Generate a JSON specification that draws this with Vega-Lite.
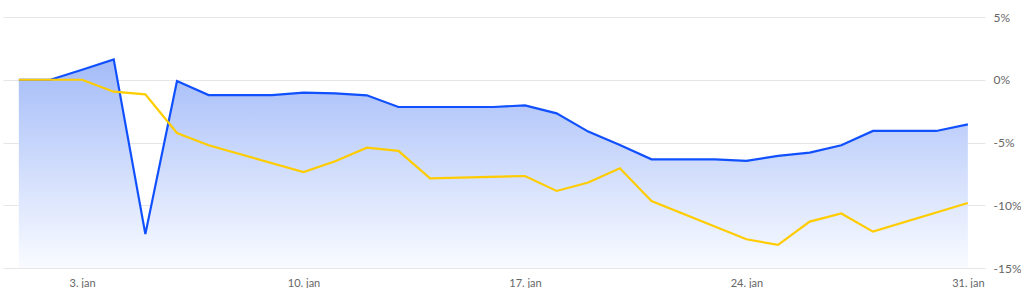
{
  "$schema": "https://vega.github.io/schema/vega-lite/v6.json",
  "width": 982,
  "height": 251,
  "padding": {"left": 3, "top": 11, "right": 0, "bottom": 0},
  "background": "white",
  "config": {
    "view": {"stroke": null},
    "font": "Lato",
    "axis": {"labelFont": "Lato", "labelColor": "#666666"}
  },
  "data": {
    "values": [
      {"date": "2022-01-01T00:00:00", "series": "blue", "value": 0},
      {"date": "2022-01-02T00:00:00", "series": "blue", "value": 0},
      {"date": "2022-01-03T00:00:00", "series": "blue", "value": 0.8},
      {"date": "2022-01-04T00:00:00", "series": "blue", "value": 1.62},
      {"date": "2022-01-05T00:00:00", "series": "blue", "value": -12.3},
      {"date": "2022-01-06T00:00:00", "series": "blue", "value": -0.1},
      {"date": "2022-01-07T00:00:00", "series": "blue", "value": -1.22},
      {"date": "2022-01-08T00:00:00", "series": "blue", "value": -1.22},
      {"date": "2022-01-09T00:00:00", "series": "blue", "value": -1.22},
      {"date": "2022-01-10T00:00:00", "series": "blue", "value": -1.03},
      {"date": "2022-01-11T00:00:00", "series": "blue", "value": -1.08},
      {"date": "2022-01-12T00:00:00", "series": "blue", "value": -1.24},
      {"date": "2022-01-13T00:00:00", "series": "blue", "value": -2.17},
      {"date": "2022-01-14T00:00:00", "series": "blue", "value": -2.17},
      {"date": "2022-01-15T00:00:00", "series": "blue", "value": -2.17},
      {"date": "2022-01-16T00:00:00", "series": "blue", "value": -2.17},
      {"date": "2022-01-17T00:00:00", "series": "blue", "value": -2.04},
      {"date": "2022-01-18T00:00:00", "series": "blue", "value": -2.68},
      {"date": "2022-01-19T00:00:00", "series": "blue", "value": -4.13},
      {"date": "2022-01-20T00:00:00", "series": "blue", "value": -5.2},
      {"date": "2022-01-21T00:00:00", "series": "blue", "value": -6.34},
      {"date": "2022-01-22T00:00:00", "series": "blue", "value": -6.34},
      {"date": "2022-01-23T00:00:00", "series": "blue", "value": -6.34},
      {"date": "2022-01-24T00:00:00", "series": "blue", "value": -6.47},
      {"date": "2022-01-25T00:00:00", "series": "blue", "value": -6.07},
      {"date": "2022-01-26T00:00:00", "series": "blue", "value": -5.8},
      {"date": "2022-01-27T00:00:00", "series": "blue", "value": -5.22},
      {"date": "2022-01-28T00:00:00", "series": "blue", "value": -4.08},
      {"date": "2022-01-29T00:00:00", "series": "blue", "value": -4.08},
      {"date": "2022-01-30T00:00:00", "series": "blue", "value": -4.08},
      {"date": "2022-01-31T00:00:00", "series": "blue", "value": -3.55},
      {"date": "2022-01-01T00:00:00", "series": "yellow", "value": 0},
      {"date": "2022-01-03T00:00:00", "series": "yellow", "value": 0},
      {"date": "2022-01-04T00:00:00", "series": "yellow", "value": -0.95},
      {"date": "2022-01-05T00:00:00", "series": "yellow", "value": -1.16},
      {"date": "2022-01-06T00:00:00", "series": "yellow", "value": -4.24},
      {"date": "2022-01-07T00:00:00", "series": "yellow", "value": -5.22},
      {"date": "2022-01-10T00:00:00", "series": "yellow", "value": -7.35},
      {"date": "2022-01-11T00:00:00", "series": "yellow", "value": -6.5},
      {"date": "2022-01-12T00:00:00", "series": "yellow", "value": -5.41},
      {"date": "2022-01-13T00:00:00", "series": "yellow", "value": -5.67},
      {"date": "2022-01-14T00:00:00", "series": "yellow", "value": -7.85},
      {"date": "2022-01-17T00:00:00", "series": "yellow", "value": -7.67},
      {"date": "2022-01-18T00:00:00", "series": "yellow", "value": -8.86},
      {"date": "2022-01-19T00:00:00", "series": "yellow", "value": -8.19},
      {"date": "2022-01-20T00:00:00", "series": "yellow", "value": -7.05},
      {"date": "2022-01-21T00:00:00", "series": "yellow", "value": -9.66},
      {"date": "2022-01-24T00:00:00", "series": "yellow", "value": -12.71},
      {"date": "2022-01-25T00:00:00", "series": "yellow", "value": -13.16},
      {"date": "2022-01-26T00:00:00", "series": "yellow", "value": -11.3},
      {"date": "2022-01-27T00:00:00", "series": "yellow", "value": -10.66},
      {"date": "2022-01-28T00:00:00", "series": "yellow", "value": -12.1},
      {"date": "2022-01-31T00:00:00", "series": "yellow", "value": -9.82}
    ]
  },
  "encoding": {
    "x": {
      "field": "date",
      "type": "temporal",
      "scale": {
        "domain": [
          {"year": 2021, "month": 12, "date": 31, "hours": 12},
          {"year": 2022, "month": 1, "date": 31, "hours": 13}
        ]
      },
      "axis": {
        "values": [
          {"year": 2022, "month": 1, "date": 3},
          {"year": 2022, "month": 1, "date": 10},
          {"year": 2022, "month": 1, "date": 17},
          {"year": 2022, "month": 1, "date": 24},
          {"year": 2022, "month": 1, "date": 31}
        ],
        "labelExpr": "timeFormat(datum.value, '%-d') + '. jan'",
        "grid": false,
        "domain": false,
        "ticks": false,
        "labelFlush": false,
        "labelPadding": 9,
        "labelFontSize": 11,
        "title": null
      }
    },
    "y": {
      "field": "value",
      "type": "quantitative",
      "scale": {"domain": [-15, 5], "nice": false, "zero": false},
      "axis": {
        "orient": "right",
        "values": [-15, -10, -5, 0, 5],
        "labelExpr": "datum.value + '%'",
        "domain": false,
        "ticks": false,
        "grid": true,
        "gridColor": "#e6e6e6",
        "gridWidth": 1,
        "labelPadding": 8,
        "labelFontSize": 12,
        "labelFlush": false,
        "title": null
      }
    }
  },
  "layer": [
    {
      "transform": [{"filter": "datum.series === 'blue'"}],
      "mark": {
        "type": "area",
        "color": {
          "gradient": "linear",
          "x1": 0, "y1": 0, "x2": 0, "y2": 1,
          "stops": [
            {"offset": 0, "color": "#a3bbf8"},
            {"offset": 1, "color": "#f9fbff"}
          ]
        }
      },
      "encoding": {
        "y2": {"datum": -15}
      }
    },
    {
      "mark": {"type": "line", "strokeWidth": 2.2},
      "encoding": {
        "color": {
          "field": "series",
          "type": "nominal",
          "scale": {"domain": ["blue", "yellow"], "range": ["#1050ff", "#ffcc00"]},
          "legend": null
        }
      }
    }
  ]
}
